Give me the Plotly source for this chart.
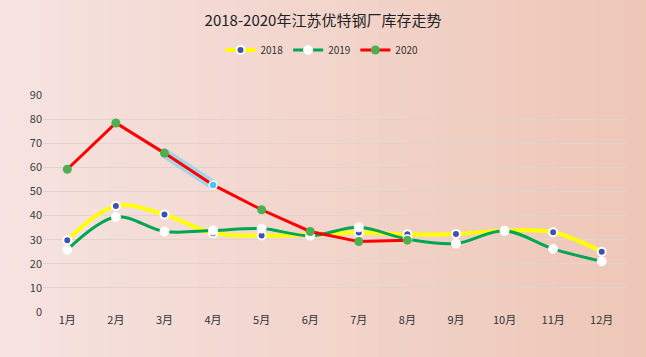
import plotly.graph_objects as go

months = ["1月", "2月", "3月", "4月", "5月", "6月", "7月", "8月", "9月", "10月", "11月", "12月"]
s2018 = [29.8, 44.0, 40.4, 32.7, 31.7, 32.0, 33.0, 32.2, 32.4, 33.7, 33.1, 25.0]
s2019 = [25.8, 39.4, 33.4, 33.8, 34.6, 31.6, 35.1, 30.2, 28.4, 33.7, 26.2, 21.0]
s2020 = [59.2, 78.4, 65.9, 52.7, 42.4, 33.4, 29.2, 29.8]
y_ticks = [0, 10, 20, 30, 40, 50, 60, 70, 80, 90]

W, H = 646, 357
ML, MR, MT, MB = 43, 20, 95, 45
pw = W - ML - MR
ph = H - MT - MB

font = "Noto Sans CJK SC"
fig = go.Figure()

fig.add_trace(go.Scatter(
    x=months, y=s2018, name="2018", mode="lines+markers",
    line=dict(color="#ffff00", width=4, shape="spline", smoothing=1),
    marker=dict(color="#3f51b5", size=8, line=dict(color="white", width=2))))
fig.add_trace(go.Scatter(
    x=months, y=s2019, name="2019", mode="lines+markers",
    line=dict(color="#00a651", width=3, shape="spline", smoothing=1),
    marker=dict(color="white", size=9, line=dict(color="white", width=1))))
# selection highlight on 2020 segment 3月-4月
fig.add_trace(go.Scatter(
    x=months[2:4], y=s2020[2:4], mode="lines", showlegend=False, hoverinfo="skip",
    line=dict(color="rgba(150,210,235,0.8)", width=10)))
fig.add_trace(go.Scatter(
    x=months[:len(s2020)], y=s2020, name="2020", mode="lines+markers",
    line=dict(color="#ff0000", width=3),
    marker=dict(color="#4caf50", size=9)))
fig.add_trace(go.Scatter(
    x=[months[3]], y=[s2020[3]], mode="markers", showlegend=False, hoverinfo="skip",
    marker=dict(color="#4fc3f7", size=8, line=dict(color="white", width=1.5))))

# gradient background via strips
shapes = []
n = 65
c0 = (246, 227, 225)
c1 = (238, 199, 183)
step = W / n
for i in range(n):
    t = i / (n - 1)
    c = tuple(round(c0[k] + (c1[k] - c0[k]) * t) for k in range(3))
    x0p = i * step
    x1p = (i + 1) * step + 1
    shapes.append(dict(
        type="rect", xref="paper", yref="paper", layer="below",
        x0=(x0p - ML) / pw, x1=(x1p - ML) / pw,
        y0=-MB / ph - 0.05, y1=(H - MB) / ph + 0.05,
        fillcolor="rgb(%d,%d,%d)" % c, line=dict(width=0)))

fig.update_layout(
    width=W, height=H,
    margin=dict(l=ML, r=MR, t=MT, b=MB),
    paper_bgcolor="rgb(242,213,204)",
    plot_bgcolor="rgba(0,0,0,0)",
    shapes=shapes,
    font=dict(family=font, color="#404040", size=11),
    title=dict(text="2018-2020年江苏优特钢厂库存走势", x=0.5, xanchor="center",
               y=1 - 21 / H, yanchor="middle",
               font=dict(family=font, size=15, color="#222")),
    legend=dict(orientation="h", x=(322 - ML) / pw, xanchor="center",
                y=(H - MB - 50) / ph, yanchor="middle",
                font=dict(family=font, size=10, color="#333"),
                bgcolor="rgba(0,0,0,0)", itemwidth=30, tracegroupgap=0),
    showlegend=True,
    hovermode=False,
)
fig.update_xaxes(type="category", range=[-0.5, 11.5], showgrid=False, zeroline=False,
                 showline=False, ticks="", tickfont=dict(size=11, color="#333"))
fig.update_yaxes(range=[0, 90], tickvals=y_ticks, showgrid=True, gridcolor="#e2d3ce",
                 gridwidth=1, zeroline=False, showline=False, ticks="",
                 tickfont=dict(size=11, color="#404040"))

fig.write_html("out.html", config={"displayModeBar": False},
               post_script="document.body.style.margin='0';document.body.style.overflow='hidden';")
